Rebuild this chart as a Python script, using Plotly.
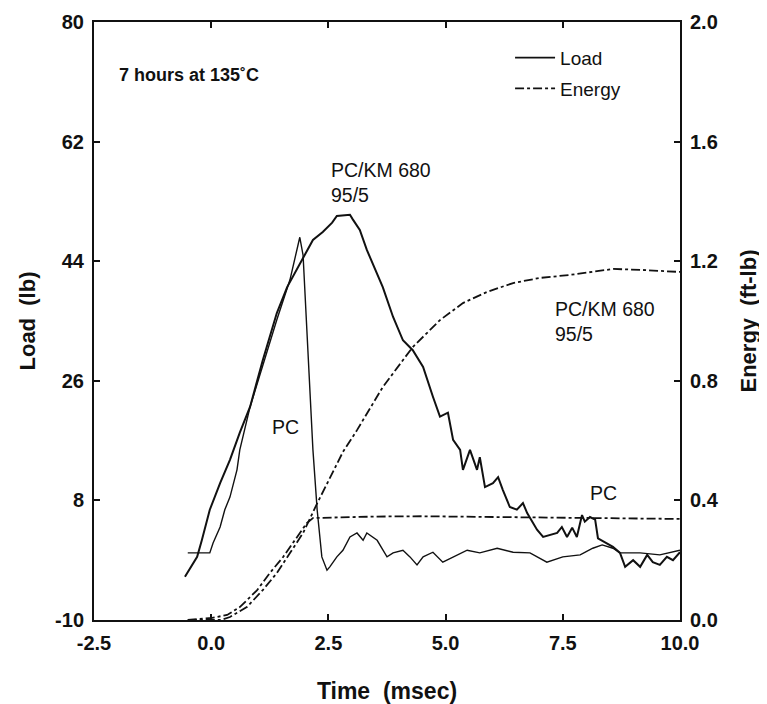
import plotly.graph_objects as go

# ---- data ----
x_ticks = [-2.5, 0.0, 2.5, 5.0, 7.5, 10.0]
load_ticks = [-10, 8, 26, 44, 62, 80]
energy_ticks = [0.0, 0.4, 0.8, 1.2, 1.6, 2.0]

# PC/KM 680 95/5 load (lb) vs time (msec)
t_pckm_load = [-0.56, -0.30, -0.20, -0.03, 0.19, 0.40, 0.61, 0.83, 1.10, 1.40, 1.62, 1.96, 2.17,
               2.38, 2.58, 2.68, 2.96, 3.02, 3.17, 3.32, 3.54, 3.66, 3.88, 4.09, 4.30, 4.52,
               4.73, 4.88, 5.05, 5.16, 5.31, 5.37, 5.52, 5.67, 5.73, 5.84, 6.01, 6.12, 6.22,
               6.37, 6.52, 6.65, 6.74, 6.86, 6.95, 7.08, 7.23, 7.38, 7.48, 7.59, 7.70, 7.80,
               7.91, 7.97, 8.08, 8.19, 8.25, 8.44, 8.57, 8.72, 8.83, 9.00, 9.15, 9.30, 9.42,
               9.57, 9.72, 9.85, 10.0]
load_pckm = [-3.5, -0.5, 2.0, 6.6, 10.6, 14.1, 18.2, 22.1, 29.1, 36.2, 40.1, 44.6, 47.2,
             48.4, 49.8, 50.8, 51.0, 50.3, 48.7, 45.7, 42.2, 40.1, 35.6, 32.1, 30.6, 28.1,
             23.6, 20.6, 21.2, 17.1, 15.6, 12.6, 15.6, 12.6, 14.5, 10.0, 10.6, 11.5, 9.6,
             7.0, 6.6, 7.6, 6.1, 4.6, 3.6, 2.5, 2.8, 3.1, 4.0, 2.5, 3.9, 2.5,
             5.8, 4.8, 5.5, 5.1, 2.3, 1.6, 1.0, 0.1, -2.0, -1.0, -2.0, -0.2, -1.3,
             -1.7, -0.5, -1.0, 0.2]

# PC load (lb) vs time (msec)
t_pc_load = [-0.50, -0.03, 0.04, 0.19, 0.29, 0.40, 0.55, 0.61, 0.83, 1.10, 1.40, 1.68, 1.89,
             1.96, 2.17, 2.26, 2.36, 2.47, 2.53, 2.68, 2.81, 2.96, 3.11, 3.24, 3.32, 3.54,
             3.75, 3.88, 4.09, 4.24, 4.39, 4.52, 4.73, 4.94, 5.16, 5.46, 5.73, 6.10, 6.44,
             6.80, 7.16, 7.50, 7.87, 8.14, 8.34, 8.57, 8.72, 9.15, 9.57, 10.0]
load_pc = [0.1, 0.1, 1.6, 4.0, 6.6, 8.5, 12.6, 15.6, 22.1, 28.4, 35.2, 41.2, 47.6,
           44.9, 15.6, 6.6, -0.5, -2.5, -2.0, -0.5, 0.5, 2.5, 3.1, 2.0, 3.1, 2.0,
           -0.5, 0.1, 0.5, -0.5, -1.7, -0.5, 0.2, -1.3, -0.5, 0.5, 0.1, 0.8, 0.2,
           0.1, -1.3, -0.5, -0.2, 0.8, 1.3, 0.8, 0.1, 0.1, -0.2, 0.5]

# PC/KM 680 95/5 energy (ft-lb)
t_pckm_energy = [-0.5, 0.2, 0.40, 0.76, 1.10, 1.40, 1.68, 1.96, 2.26, 2.53, 2.81, 3.11, 3.66,
                 4.30, 4.88, 5.37, 5.88, 6.44, 7.01, 7.65, 8.23, 8.57, 9.15, 9.64, 10.0]
energy_pckm = [0.0, 0.0, 0.01, 0.043, 0.10, 0.157, 0.224, 0.291, 0.39, 0.475, 0.562, 0.635, 0.779,
               0.913, 1.003, 1.06, 1.097, 1.127, 1.144, 1.154, 1.167, 1.174, 1.171, 1.167, 1.164]

# PC energy (ft-lb)
t_pc_energy = [-0.5, 0.02, 0.34, 0.61, 0.98, 1.25, 1.53, 1.83, 2.04, 2.17, 2.6, 3.5, 4.5,
               5.5, 6.5, 7.5, 8.5, 9.5, 10.0]
energy_pc = [0.0, 0.007, 0.017, 0.043, 0.10, 0.157, 0.21, 0.278, 0.324, 0.341, 0.343, 0.346, 0.347,
             0.345, 0.343, 0.342, 0.341, 0.339, 0.338]

FONT = "Liberation Sans, Arial, Helvetica, sans-serif"
BLK = "#111111"

fig = go.Figure()
fig.add_trace(go.Scatter(x=t_pckm_load, y=load_pckm, mode="lines",
                         line=dict(color=BLK, width=2), showlegend=False))
fig.add_trace(go.Scatter(x=t_pc_load, y=load_pc, mode="lines",
                         line=dict(color=BLK, width=1.4), showlegend=False))
fig.add_trace(go.Scatter(x=t_pckm_energy, y=energy_pckm, mode="lines", yaxis="y2",
                         line=dict(color=BLK, width=1.8, dash="dashdot"), showlegend=False))
fig.add_trace(go.Scatter(x=t_pc_energy, y=energy_pc, mode="lines", yaxis="y2",
                         line=dict(color=BLK, width=1.8, dash="dashdot"), showlegend=False))
# legend entries
fig.add_trace(go.Scatter(x=[None], y=[None], mode="lines", name="Load", legendgroup="a",
                         line=dict(color=BLK, width=1.8)))
fig.add_trace(go.Scatter(x=[None], y=[None], mode="lines", name="Energy", legendgroup="b",
                         line=dict(color=BLK, width=1.8, dash="dashdot")))

axis_common = dict(showline=True, linecolor=BLK, linewidth=2, showgrid=False, zeroline=False,
                   automargin=False,
                   ticks="inside", ticklen=6, tickwidth=1.5, tickcolor=BLK,
                   tickfont=dict(family=FONT, size=20, color=BLK, weight="bold"))
title_font = dict(family=FONT, size=22, color=BLK, weight="bold")

# page has an 8px body margin; figure sized to fit the 767x704 window
fig.update_layout(
    width=759, height=696,
    margin=dict(l=86, r=87, t=14, b=84),
    paper_bgcolor="white", plot_bgcolor="white",
    font=dict(family=FONT, color=BLK),
    xaxis=dict(range=[-2.5, 10.0], tickvals=x_ticks, ticktext=[f"{v:.1f}" for v in x_ticks],
               mirror="ticks", ticklabelstandoff=4,
               title=dict(text="Time  (msec)", standoff=34,
                          font=dict(family=FONT, size=23, color=BLK, weight="bold")),
               **axis_common),
    yaxis=dict(range=[-10, 80], tickvals=load_ticks, ticktext=[str(v) for v in load_ticks],
               ticklabelstandoff=4,
               title=dict(text="Load  (lb)", standoff=13, font=title_font),
               **axis_common),
    yaxis2=dict(range=[0, 2.0], tickvals=energy_ticks, ticktext=[f"{v:.1f}" for v in energy_ticks],
                overlaying="y", side="right", ticklabelstandoff=4,
                title=dict(text="Energy  (ft-lb)", standoff=23, font=title_font),
                **axis_common),
    legend=dict(x=0.71, y=0.972, xanchor="left", yanchor="top", bgcolor="rgba(0,0,0,0)",
                font=dict(family=FONT, size=19, color=BLK), itemwidth=40,
                traceorder="grouped", tracegroupgap=3),
    showlegend=True,
)

ann_font = dict(family=FONT, size=19.5, color=BLK)
fig.add_annotation(x=-2.0, y=72.0, xref="x", yref="y", text="<b>7 hours at 135˚C</b>",
                   showarrow=False, xanchor="left", yanchor="middle",
                   font=dict(family=FONT, size=18, color=BLK))
fig.add_annotation(x=2.51, y=55.9, xref="x", yref="y", text="PC/KM 680<br>95/5",
                   showarrow=False, xanchor="left", yanchor="middle", align="left", font=ann_font)
fig.add_annotation(x=7.3, y=1.0, xref="x", yref="y2", text="PC/KM 680<br>95/5",
                   showarrow=False, xanchor="left", yanchor="middle", align="left", font=ann_font)
fig.add_annotation(x=1.26, y=19.0, xref="x", yref="y", text="PC",
                   showarrow=False, xanchor="left", yanchor="middle", font=ann_font)
fig.add_annotation(x=8.04, y=9.1, xref="x", yref="y", text="PC",
                   showarrow=False, xanchor="left", yanchor="middle", font=ann_font)

fig.write_html("out.html")
